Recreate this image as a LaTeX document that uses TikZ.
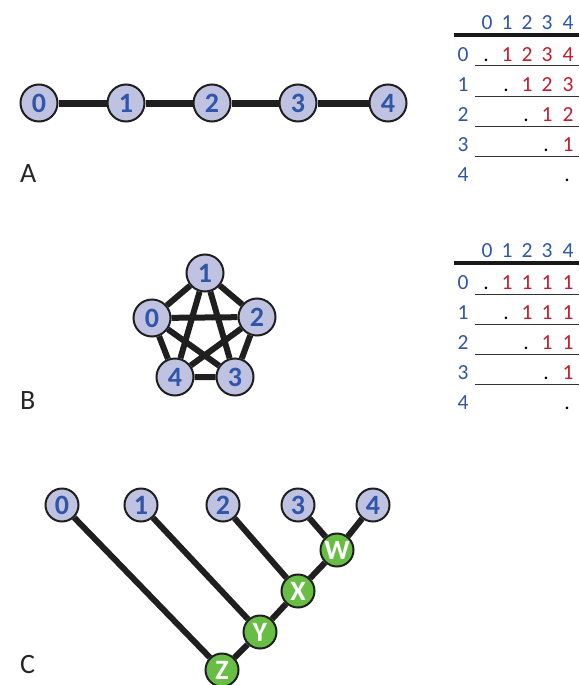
\documentclass[tikz,border=0pt]{standalone}
\usepackage{fontspec}
\setmainfont{Carlito}
\usetikzlibrary{backgrounds}
\definecolor{vfill}{RGB}{192,194,225}
\definecolor{vblue}{RGB}{47,86,168}
\definecolor{igreen}{RGB}{104,189,69}
\definecolor{tred}{RGB}{190,30,45}
\tikzset{
  vtx/.style={circle,draw=black!88,line width=2pt,fill=vfill,text=vblue,
    font=\fontsize{28}{28}\selectfont\bfseries,inner sep=0pt,minimum size=37pt},
  anc/.style={vtx,fill=igreen,text=white,minimum size=33pt},
  edge/.style={black!88,line width=7pt},
  tab/.style={font=\fontsize{21.5}{21.5}\selectfont,text=vblue,inner sep=0pt,anchor=base},
  lbl/.style={font=\fontsize{28}{28}\selectfont,text=black!85,inner sep=0pt,anchor=base west}
}
\begin{document}
\begin{tikzpicture}[x=1pt,y=-1pt]
\useasboundingbox (0,0) rectangle (579,685);
% A: path
\node[vtx] (a0) at (39,103) {0};
\node[vtx] (a1) at (126,103) {1};
\node[vtx] (a2) at (212,103) {2};
\node[vtx] (a3) at (298,103) {3};
\node[vtx] (a4) at (388,103) {4};
\draw[edge] (a0)--(a1) (a1)--(a2) (a2)--(a3) (a3)--(a4);
\node[lbl] (la) at (20,182) {A};
% B: complete graph
\node[vtx] (b1) at (205,273) {1};
\node[vtx] (b0) at (152,318) {0};
\node[vtx] (b2) at (257,317) {2};
\node[vtx] (b4) at (175,377) {4};
\node[vtx] (b3) at (235,377) {3};
\begin{scope}[on background layer]
\draw[edge,line width=6pt] (b0)--(b1) (b1)--(b2) (b2)--(b3) (b3)--(b4) (b4)--(b0)
  (b0)--(b2) (b0)--(b3) (b1)--(b3) (b1)--(b4) (b2)--(b4);
\end{scope}
\node[lbl] (lb) at (20,409) {B};
% C: tree
\node[vtx,minimum size=33pt] (c0) at (62,505) {0};
\node[vtx,minimum size=33pt] (c1) at (141,505) {1};
\node[vtx,minimum size=33pt] (c2) at (223,505) {2};
\node[vtx,minimum size=33pt] (c3) at (298,505) {3};
\node[vtx,minimum size=33pt] (c4) at (373,505) {4};
\node[anc] (w) at (337,550) {W};
\node[anc] (x) at (298,591) {X};
\node[anc] (y) at (260,632) {Y};
\node[anc] (z) at (222,670) {Z};
\draw[edge,line width=6pt] (c3)--(w) (c4)--(w) (c2)--(x) (w)--(x)
  (c1)--(y) (x)--(y) (c0)--(z) (y)--(z);
\node[lbl] (lc) at (20,673) {C};
% tables
\foreach \dy/\kind in {0/a,228/b} {
  \draw[black!90,line width=4.5pt] (454,35+\dy)--(579,35+\dy);
  \foreach \j [count=\c from 0] in {487,507,527,547,568} {
    \node[tab] at (\j,29.5+\dy) {\c};
  }
  \foreach \i in {0,...,4} {
    \node[tab] at (463,61.5+30*\i+\dy) {\i};
    \pgfmathsetmacro{\xd}{486+20*\i+(\i==4)}
    \node[tab,text=black] at (\xd,61.5+30*\i+\dy) {.};
    \ifnum\i<4
      \draw[black!80,line width=1pt] (475,66+30*\i+\dy)--(579,66+30*\i+\dy);
    \fi
    \foreach \j in {0,...,4} {
      \ifnum\j>\i
        \pgfmathsetmacro{\xe}{487+20*\j+(\j==4)}
        \if\kind a
          \pgfmathtruncatemacro{\v}{\j-\i}
        \else
          \def\v{1}
        \fi
        \node[tab,text=tred] at (\xe,61.5+30*\i+\dy) {\v};
      \fi
    }
  }
}
\end{tikzpicture}
\end{document}
